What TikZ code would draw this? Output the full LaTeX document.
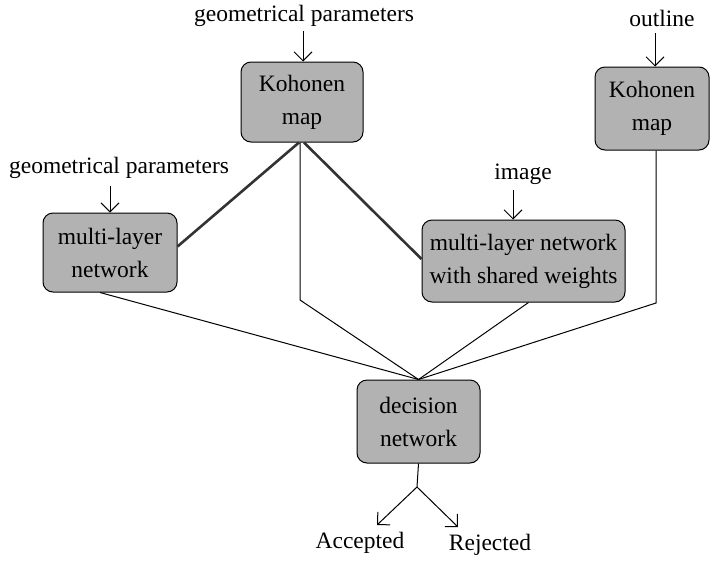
\documentclass[tikz,border=0pt]{standalone}
\usepackage{fontspec}
\setmainfont{Liberation Serif}
\usetikzlibrary{arrows.meta}
\tikzset{
  netbox/.style={draw=black, line width=1pt, rounded corners=10pt, fill=black!30,
    align=center, inner sep=0pt, font=\fontsize{23.5}{33}\selectfont},
  lbl/.style={font=\fontsize{23.5}{26}\selectfont, inner sep=0pt},
  feed/.style={line width=1pt, -{Straight Barb[length=9pt,width=18pt,line width=1pt]}},
  link/.style={line width=1pt},
  strong/.style={line width=2.6pt, black!80}
}
\begin{document}
\begin{tikzpicture}[x=1pt,y=-1pt]
\useasboundingbox (0,0) rectangle (712,560);

% network modules
\node[netbox, minimum width=122pt, minimum height=80pt] (k1) at (302,102) {Kohonen\\map};
\node[netbox, minimum width=114pt, minimum height=83pt] (k2) at (652,108.5) {Kohonen\\map};
\node[netbox, minimum width=134pt, minimum height=79pt] (ml) at (110,252.5) {multi-layer\\network};
\node[netbox, minimum width=203pt, minimum height=82pt] (sw) at (523.5,261) {multi-layer network\\with shared weights};
\node[netbox, minimum width=123pt, minimum height=83pt] (dn) at (418.5,421.5) {decision\\network};

% inputs
\node[lbl] (in1) at (304,16) {geometrical parameters};
\node[lbl] (in2) at (662,18) {outline};
\node[lbl] (in3) at (119,168) {geometrical parameters};
\node[lbl] (in4) at (523,174) {image};
\draw[feed] (303,31) -- (k1.north -| 303,0);
\draw[feed] (655,33) -- (k2.north -| 655,0);
\draw[feed] (110,186) -- (ml.north -| 110,0);
\draw[feed] (513,190) -- (sw.north -| 513,0);

% strong links from the top map
\draw[strong] ([xshift=-3pt]k1.south) -- ([yshift=6pt]ml.east);
\draw[strong] ([xshift=2pt]k1.south) -- ([yshift=2pt]sw.west);

% links into the decision network
\coordinate (b1) at (300,300);
\coordinate (b2) at (656,303);
\draw[link] ([xshift=-2pt]k1.south) -- (b1) -- (dn.north);
\draw[link] ([xshift=-10pt]ml.south) -- (dn.north);
\draw[link] ([xshift=5pt]sw.south) -- (dn.north);
\draw[link] (k2.south -| 656,0) -- (b2) -- (dn.north);

% outputs
\coordinate (fork) at (417,487);
\node[lbl] (acc) at (360,543) {Accepted};
\node[lbl] (rej) at (490,545) {Rejected};
\draw[link] (dn.south) -- (fork);
\draw[feed] (fork) -- (377,525);
\draw[feed] (fork) -- (458,527);
\end{tikzpicture}
\end{document}
